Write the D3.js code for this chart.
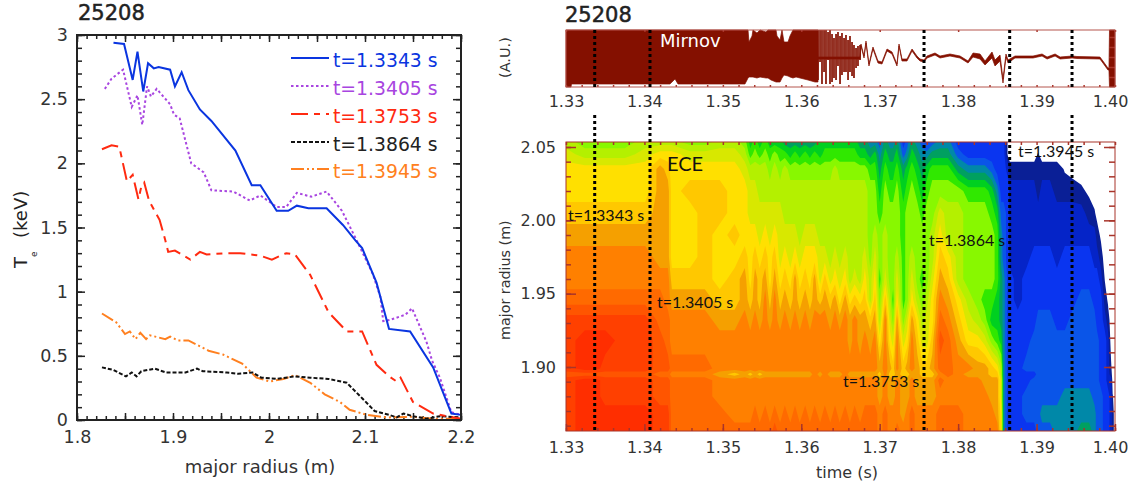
<!DOCTYPE html>
<html>
<head>
<meta charset="utf-8">
<script src="https://cdn.jsdelivr.net/npm/d3@7"></script>
<style>
  body { margin: 0; background: white; }
  svg { display: block; font-family: "DejaVu Sans", sans-serif; }
  .tickLabel text { fill: #333; }
  .note { font-family: Lato, sans-serif; font-size: 16px; fill: #111; }
  .shot { font-size: 21px; fill: #222; stroke: #222; stroke-width: 0.5px; }
</style>
</head>
<body>
<svg id="chart" width="1136" height="488"></svg>
<script>
// left plot: electron temperature profiles
var radius1343 = [1.838,1.849,1.858,1.863,1.869,1.874,1.880,1.885,1.897,1.902,1.909,1.916,1.928,1.940,1.965,1.982,1.991,2.008,2.020,2.029,2.041,2.060,2.077,2.090,2.097,2.112,2.125,2.147,2.171,2.190,2.200];
var te1343 = [2.94,2.93,2.65,2.87,2.56,2.78,2.74,2.75,2.73,2.60,2.71,2.57,2.42,2.33,2.10,1.83,1.83,1.63,1.63,1.67,1.65,1.65,1.52,1.40,1.34,1.07,0.71,0.69,0.41,0.05,0.04];
var radius1405 = [1.829,1.836,1.848,1.857,1.863,1.868,1.873,1.877,1.883,1.897,1.901,1.907,1.919,1.932,1.940,1.963,1.980,1.991,2.008,2.018,2.029,2.044,2.060,2.076,2.090,2.108,2.116,2.119,2.126,2.142,2.149,2.164,2.170,2.178,2.190,2.200];
var te1405 = [2.58,2.66,2.73,2.44,2.53,2.30,2.60,2.52,2.58,2.46,2.38,2.35,2.00,1.93,1.79,1.78,1.71,1.75,1.66,1.66,1.77,1.74,1.78,1.63,1.42,1.14,0.96,0.77,0.78,0.82,0.87,0.61,0.46,0.33,0.06,0.04];
var radius1753 = [1.826,1.836,1.844,1.852,1.858,1.864,1.867,1.870,1.875,1.886,1.892,1.895,1.902,1.918,1.928,1.935,1.956,1.970,1.991,2.003,2.018,2.027,2.043,2.062,2.081,2.097,2.112,2.125,2.133,2.137,2.150,2.171,2.185,2.200];
var te1753 = [2.11,2.14,2.13,1.86,1.91,1.72,1.82,1.85,1.71,1.56,1.40,1.31,1.32,1.25,1.31,1.29,1.30,1.30,1.28,1.25,1.30,1.29,1.13,0.84,0.69,0.69,0.43,0.34,0.30,0.33,0.14,0.05,0.03,0.01];
var radius1864 = [1.826,1.838,1.851,1.857,1.862,1.867,1.881,1.893,1.913,1.925,1.931,1.956,1.968,1.983,1.992,2.008,2.027,2.043,2.062,2.081,2.097,2.110,2.125,2.133,2.140,2.150,2.164,2.178,2.200];
var te1864 = [0.41,0.39,0.34,0.37,0.34,0.38,0.40,0.37,0.37,0.40,0.38,0.37,0.36,0.37,0.33,0.32,0.34,0.33,0.32,0.29,0.17,0.07,0.04,0.02,0.05,0.03,0.01,0.03,0.02];
var radius1945 = [1.826,1.841,1.850,1.855,1.861,1.866,1.872,1.876,1.892,1.897,1.905,1.916,1.937,1.952,1.972,1.987,2.001,2.015,2.027,2.043,2.058,2.074,2.084,2.102,2.123,2.150,2.171,2.200];
var te1945 = [0.83,0.76,0.67,0.69,0.63,0.68,0.63,0.66,0.63,0.65,0.62,0.62,0.54,0.51,0.44,0.33,0.30,0.32,0.35,0.29,0.20,0.14,0.08,0.04,0.02,0.025,0.01,0.01];

var seriesNames = ["t=1.3343 s", "t=1.3405 s", "t=1.3753 s", "t=1.3864 s", "t=1.3945 s"];
var seriesColors = ["#0a35e0", "#a845e0", "#ff2a10", "#111111", "#ff8020"];
var seriesDashes = [null, "2.5,2.5", "17,6,6,6", "4,2", "13,3,2,3,2,3"];

var radiusTicks = [1.8, 1.9, 2, 2.1, 2.2];
var teTicks = [0, 0.5, 1, 1.5, 2, 2.5, 3];

// right plots
var timeTicks = [1.33, 1.34, 1.35, 1.36, 1.37, 1.38, 1.39, 1.40];
var eceRadiusTicks = [1.90, 1.95, 2.00, 2.05];
var markerTimes = [1.33366, 1.34071, 1.37565, 1.38657, 1.39452];

// Mirnov envelope, upper and lower edge
var mirnovTime = [1.33,1.33064,1.3307,1.34326,1.3439,1.34428,1.35282,1.35321,1.35333,1.35372,1.35384,1.35435,1.35474,1.3555,1.35576,1.35614,1.35678,1.3569,1.35729,1.35754,1.3578,1.35831,1.35856,1.35894,1.35933,1.35984,1.36086,1.36175,1.36213,1.36216,1.36749,1.36761,1.368,1.36825,1.36863,1.36914,1.36978,1.37029,1.37093,1.37157,1.3722,1.37246,1.37284,1.37348,1.37412,1.37475,1.37514,1.37565,1.37603,1.37705,1.37769,1.37896,1.38024,1.38126,1.3819,1.38279,1.38343,1.38432,1.3847,1.38534,1.38572,1.3861,1.38636,1.38725,1.38955,1.3907,1.39134,1.39236,1.393,1.39453,1.39515,1.39808,1.39846,1.3991,1.39923,1.3993,1.4];
var mirnovHigh = [57,57,57,57,57,57,57,57,45,51,57,54,57,55,57,57,57,51,47,57,45,45,51,57,57,57,57,57,57,30,30,43,31,46,23,40,26,25,38,35,23,43,28,28,38,31,28,27,31,34,31,33,31,26,34,33,26,35,27,32,8,33,27,31,31,33,30,33,30,31,30.5,30,26,19,19,57,57];
var mirnovLow = [0,0,3,3,8,3,3,9,10,10,10,9,10,9,9,7,5,5,5,9,12,11,10,9,10,9,7,5,5,28,28,41,29,44,21,38,24,23,36,33,21,41,26,26,36,29,26,25,29,32,29,31,29,24,30,28,22,29,21,26,4,30,24,29,29,31,28,31,28,29,28.5,28,24,17,17,0,0];

// Mirnov burst: single swings drawn as thin vertical bars
var burstTime = [1.36213,1.36239,1.36264,1.3629,1.36315,1.36341,1.36366,1.36392,1.36417,1.36443,1.36468,1.36494,1.36519,1.36545,1.3657,1.36596,1.36621,1.36647,1.36672,1.36698,1.36723,1.36749];
var burstHigh = [57,57,57,57,57,55,57,53,49,53,55,51,54,49,52,47,51,45,42,39,41,42];
var burstLow = [7,25,3,15,3,27,3,5,9,7,21,3,12,15,15,7,15,11,9,19,21,27];

// ECE map: one profile per time, values are colour levels
var eceRadii = [1.857,1.868,1.88,1.891,1.895,1.899,1.918,1.932,1.946,1.96,1.975,1.99,2.005,2.02,2.035,2.045,2.053];
var eceTimes = [1.33,1.3324,1.3337,1.335,1.3375,1.3401,1.342,1.343,1.3435,1.3458,1.3477,1.3496,1.3515,1.3528,1.3535,1.3541,1.3547,1.3554,1.356,1.3566,1.3573,1.3579,1.3586,1.3592,1.3598,1.3605,1.3611,1.3617,1.3624,1.363,1.3637,1.3643,1.3649,1.3656,1.3662,1.3668,1.3675,1.3681,1.3688,1.3694,1.37,1.3707,1.3713,1.3717,1.3722,1.373,1.3735,1.3741,1.3748,1.3754,1.376,1.3767,1.3777,1.3787,1.38,1.3813,1.3825,1.3834,1.3843,1.385,1.3855,1.3858,1.3864,1.3866,1.3876,1.3887,1.3897,1.3902,1.3907,1.3917,1.3926,1.3936,1.3946,1.3957,1.3967,1.3974,1.3977,1.3982,1.3987,1.3991,1.3995,1.3997,1.4];
var eceLevels = [
  [18,18,18,18,17,18,18,18,16,15,15,14,13,12,12,11,10],
  [19,19,19,19,17,19,19,18,16,15,15,14,13,12,12,10,9],
  [19,19,19,19,17,19,19,18,16,15,15,14,13,12,12,10,9],
  [19,19,18,18,17,18,19,18,16,15,15,14,13,12,12,10,9],
  [19,19,18,18,17,18,18,18,16,15,15,14,13,12,12,10,9],
  [19,19,18,18,17,18,18,18,16,15,15,14,13,12,12,11,10],
  [18,18,17,17,16,17,17,16,16,15,14,14,14,14,14,12,10],
  [18,18,17,17,16,17,16,16,15,15,14,14,14,14,13,12,10],
  [16,16,16,16,15,16,15,15,14,13,12,12,12,12,12,12,10],
  [16,16,16,16,15,16,15,15,14,13,12,12,12,13,12,11,9],
  [16,16,16,16,15,16,15,15,14,13,13,13,13,13,12,11,9],
  [16,16,15,15,14,15,15,14,13,12,12,12,13,13,12,11,10],
  [16,15,15,15,13,15,15,14,13,13,12,13,12,12,12,11,10],
  [16,15,15,15,14,15,15,15,14,14,13,12,12,12,11,10,9],
  [16,15,15,15,13,15,15,14,13,12,12,12,11,11,10,8,7],
  [16,16,15,15,14,15,15,15,14,14,13,12,11,11,10,9,8],
  [16,15,15,15,13,15,15,14,13,13,12,11,11,10,10,8,7],
  [16,16,15,15,14,15,15,15,15,14,13,12,11,10,10,9,8],
  [16,15,15,15,14,15,15,14,13,12,12,11,11,10,9,8,7],
  [17,16,15,15,14,15,15,15,15,14,13,12,11,10,10,9,7],
  [16,15,15,15,14,15,15,14,13,12,11,11,11,10,9,8,7],
  [16,16,15,15,14,15,15,15,14,13,12,11,10,10,10,8,6],
  [16,15,15,15,14,15,15,14,13,12,11,11,10,10,9,7,6],
  [16,16,15,15,14,15,15,15,14,14,12,11,10,10,9,8,6],
  [16,15,15,15,14,15,15,14,13,12,11,10,10,10,9,7,6],
  [16,16,15,15,14,15,15,15,14,13,12,11,10,10,9,8,6],
  [16,15,15,15,14,15,15,14,13,12,12,11,10,10,9,7,6],
  [16,16,15,15,15,15,15,15,14,14,12,11,10,10,9,8,6],
  [16,15,15,15,14,15,15,15,13,11,11,10,10,10,9,7,7],
  [16,16,15,15,15,15,15,15,14,13,11,10,10,10,9,8,7],
  [16,15,15,15,14,15,15,14,13,11,10,10,10,10,9,8,7],
  [16,16,15,15,14,15,15,15,14,12,11,10,10,10,10,8,7],
  [16,15,15,15,14,15,15,14,12,11,10,10,10,10,9,8,7],
  [16,16,15,15,15,15,15,15,14,12,11,10,10,10,9,8,7],
  [16,15,15,15,14,15,14,14,12,10,10,10,10,10,9,8,7],
  [16,16,15,15,14,15,15,15,13,11,10,10,10,10,9,8,7],
  [16,15,15,15,14,15,14,14,12,10,10,10,10,10,9,7,6],
  [16,16,15,15,14,15,15,14,13,12,11,10,10,10,9,7,6],
  [16,16,15,15,14,15,14,13,10,10,9,9,9,9,8,6,5],
  [16,16,15,15,14,15,15,14,13,12,11,10,9,9,8,7,5],
  [15,15,14,14,13,14,12,10,9,8,9,9,8,7,6,5,4],
  [16,16,15,15,15,15,15,15,13,11,10,10,9,9,8,7,6],
  [15,15,14,14,13,14,12,11,10,9,9,9,9,8,7,6,5],
  [15,15,14,14,13,13,11,9,8,9,9,9,9,8,7,6,5],
  [16,15,15,15,14,15,15,14,12,11,10,9,9,9,8,7,6],
  [15,14,14,14,13,13,11,9,8,8,8,8,8,7,6,4,3],
  [15,15,14,14,13,14,12,11,9,9,9,9,9,8,7,5,4],
  [16,16,15,15,14,15,15,14,12,11,10,9,9,9,8,7,6],
  [15,15,14,14,14,14,13,12,10,9,9,9,9,8,7,6,5],
  [15,15,14,14,13,13,11,10,9,8,9,9,8,7,6,5,4],
  [15,15,14,14,13,13,11,11,10,9,9,9,9,8,7,5,3],
  [15,15,14,14,13,14,13,12,12,11,10,10,9,9,8,6,4],
  [16,16,15,16,15,16,17,16,15,14,13,12,11,9,8,6,5],
  [16,16,15,15,16,16,16,15,14,13,12,10,10,9,8,6,5],
  [16,16,15,15,15,15,14,13,12,10,10,10,10,9,6,4,3],
  [15,15,15,15,14,15,12,11,10,9,9,9,9,8,5,3,3],
  [15,15,15,15,14,14,12,10,9,9,9,9,9,8,5,3,3],
  [15,15,15,14,14,14,11,9,8,9,9,9,9,8,5,3,3],
  [15,15,14,14,13,13,9,7,8,9,9,9,8,7,4,3,3],
  [15,14,14,14,13,12,8,7,7,8,8,8,7,5,3,3,3],
  [12,12,11,11,10,10,7,6,6,6,5,5,4,3,3,3,3],
  [5,5,5,5,5,5,5,5,5,5,4,4,4,3,3,3,3],
  [3,3,3,3,3,3,3,3,3,3,3,3,3,3,2,0,0],
  [3,3,3,3,3,3,3,3,3,3,2,2,2,2,1,0,0],
  [3,3,3,3,3,3,3,3,2,2,2,2,2,2,1,0,0],
  [3,4,4,3,3,4,3,3,3,3,2,2,2,2,1,0,0],
  [3,4,4,4,3,4,4,3,3,3,3,2,2,2,1,0,0],
  [4,4,4,4,4,4,4,4,3,3,3,2,2,1,1,0.6,0],
  [4,5,4,4,4,4,4,4,3,3,3,2,2,2,1,0,0],
  [4,5,4,4,4,4,4,4,3,3,3,2,2,2,1,0,0],
  [5,5,4,4,4,4,4,3,3,3,2,2,2,1,1,0,0],
  [5,5,5,4,4,4,4,3,3,3,3,2,2,1,0.4,0,0],
  [5,5,5,4,4,4,4,4,3,3,3,2,2,1,0.1,0,0],
  [6,5,5,4,4,4,4,4,4,3,3,2,2,0.7,0,0,0],
  [6,5,5,4,4,4,4,4,4,3,3,2,1,0.3,0,0,0],
  [5,5,4,4,4,4,4,4,3,3,2,2,0.6,0,0,0,0],
  [4,4,4,4,4,4,4,3,3,3,2,1,0.2,0,0,0,0],
  [4,4,4,3,3,3,3,3,3,2,1,0.3,0,0,0,0,0],
  [3,3,3,3,3,3,3,2,1,0.45,0,0,0,0,0,0,0],
  [3,3,3,2,2,2,2,1,0.35,0,0,0,0,0,0,0,0],
  [2,2,2,2,1,0.7,0,0,0,0,0,0,0,0,0,0,0],
  [1,1,0.6,0,0,0,0,0,0,0,0,0,0,0,0,0,0],
  [0,0,0,0,0,0,0,0,0,0,0,0,0,0,0,0,0]
];
var levelColors = ["#0a1f96","#0524c8","#0a35f0","#0a55e8","#0088a8","#00a060","#00d020","#30e800","#88f800","#b4f000","#d8e800","#ffe000","#ffc800","#f5a000","#ff8000","#ff6a00","#ff5500","#ff4000","#ff2e00"];

var svg = d3.select("#chart");
var darkRed = "#a8342a";


// small inward ticks on all four sides of a panel
function sideTicks(g, scale, values, orient, pos, length, color) {
  var axis = orient == "x" ? d3.axisBottom(scale) : d3.axisLeft(scale);
  g.append("g")
    .attr("transform", orient == "x" ? "translate(0," + pos + ")" : "translate(" + pos + ",0)")
    .call(axis.tickValues(values).tickSize(length).tickFormat(""))
    .call(function(a) { a.select(".domain").remove(); })
    .selectAll("line").attr("stroke", color).attr("stroke-width", 1.5);
}


function minorValues(start, step, count) {
  var out = [];
  for (var i = 0; i <= count; i++) {
    out.push(+(start + i * step).toFixed(4));
  }
  return out;
}


function profilePlot() {
  var x = d3.scaleLinear().domain([1.8, 2.2]).range([77, 461]);
  var y = d3.scaleLinear().domain([0, 3]).range([420, 35]);
  var g = svg.append("g");
  var ink = "#222";

  // ticks
  sideTicks(g, x, minorValues(1.8, 0.01, 40), "x", 420, -4, ink);
  sideTicks(g, x, minorValues(1.8, 0.05, 8), "x", 420, -7, ink);
  sideTicks(g, x, minorValues(1.8, 0.01, 40), "x", 35, 4, ink);
  sideTicks(g, x, minorValues(1.8, 0.05, 8), "x", 35, 7, ink);
  sideTicks(g, y, minorValues(0, 0.1, 30), "y", 77, -5, ink);
  sideTicks(g, y, teTicks, "y", 77, -8, ink);
  sideTicks(g, y, minorValues(0, 0.1, 30), "y", 461, 5, ink);
  sideTicks(g, y, teTicks, "y", 461, 8, ink);

  // labels
  g.append("g").attr("class", "tickLabel")
    .attr("transform", "translate(0,420)")
    .call(d3.axisBottom(x).tickValues(radiusTicks).tickSize(0).tickPadding(11).tickFormat(function(d) { return d; }))
    .call(function(a) { a.select(".domain").remove(); })
    .selectAll("text").style("font", "17.5px 'DejaVu Sans'");
  g.append("g").attr("class", "tickLabel")
    .attr("transform", "translate(77,0)")
    .call(d3.axisLeft(y).tickValues(teTicks).tickSize(0).tickPadding(9).tickFormat(function(d) { return d; }))
    .call(function(a) { a.select(".domain").remove(); })
    .selectAll("text").style("font", "17.5px 'DejaVu Sans'");

  // curves
  var radii = [radius1343, radius1405, radius1753, radius1864, radius1945];
  var temps = [te1343, te1405, te1753, te1864, te1945];
  var line = d3.line()
    .x(function(d) { return x(d[0]); })
    .y(function(d) { return y(d[1]); });

  // orange and black sit under the others
  [4, 3, 2, 1, 0].forEach(function(s) {
    g.append("path")
      .datum(d3.zip(radii[s], temps[s]))
      .attr("fill", "none")
      .attr("stroke", seriesColors[s])
      .attr("stroke-width", 2)
      .attr("stroke-dasharray", seriesDashes[s])
      .attr("d", line);
  });

  g.append("rect")
    .attr("x", 77).attr("y", 35).attr("width", 384).attr("height", 385)
    .attr("fill", "none").attr("stroke", ink).attr("stroke-width", 2);

  // legend
  var legendRows = [58, 86, 114, 142, 169];
  seriesNames.forEach(function(name, s) {
    g.append("line")
      .attr("x1", 291).attr("x2", 329)
      .attr("y1", legendRows[s]).attr("y2", legendRows[s])
      .attr("stroke", seriesColors[s])
      .attr("stroke-width", 2)
      .attr("stroke-dasharray", seriesDashes[s]);
    g.append("text")
      .attr("x", 333).attr("y", legendRows[s] + 8.5)
      .attr("fill", s == 3 ? "#222" : seriesColors[s])
      .style("font-size", "18.8px")
      .text(name);
  });

  g.append("text").attr("class", "shot").attr("x", 78).attr("y", 19.5).text("25208");
  g.append("text").attr("x", 260).attr("y", 473).attr("text-anchor", "middle").style("font-size", "18px").attr("fill", "#333").text("major radius (m)");

  // T_e (keV), written bottom to top
  g.append("text").attr("transform", "translate(27,268) rotate(-90)").style("font-size", "18px").attr("fill", "#222").text("T");
  g.append("text").attr("transform", "translate(37,257) rotate(-90)").style("font-size", "9px").attr("fill", "#222").text("e");
  g.append("text").attr("transform", "translate(27,238) rotate(-90)").style("font-size", "18px").attr("fill", "#222").text("(keV)");
}


function timeAxis(g, x, pos, padding) {
  g.append("g").attr("class", "tickLabel")
    .attr("transform", "translate(0," + pos + ")")
    .call(d3.axisBottom(x).tickValues(timeTicks).tickSize(0).tickPadding(padding).tickFormat(d3.format(".2f")))
    .call(function(a) { a.select(".domain").remove(); })
    .selectAll("text").style("font", "16px 'DejaVu Sans'")
    .attr("dx", function(d) { return d == 1.40 ? -5 : 0; });
}


function mirnovPlot(x) {
  var y = d3.scaleLinear().domain([0, 57]).range([87, 30]);
  var g = svg.append("g");

  var area = d3.area()
    .x(function(d) { return x(d[0]); })
    .y0(function(d) { return y(d[2]); })
    .y1(function(d) { return y(d[1]); });
  g.append("path")
    .datum(d3.zip(mirnovTime, mirnovHigh, mirnovLow))
    .attr("fill", "#841000")
    .attr("stroke", "#841000")
    .attr("stroke-width", 0.7)
    .attr("d", area);

  g.selectAll("line.burst")
    .data(d3.zip(burstTime, burstHigh, burstLow))
    .enter().append("line")
    .attr("class", "burst")
    .attr("x1", function(d) { return x(d[0]); })
    .attr("x2", function(d) { return x(d[0]); })
    .attr("y1", function(d) { return y(d[1]); })
    .attr("y2", function(d) { return y(d[2]); })
    .attr("stroke", "#841000")
    .attr("stroke-width", 1.7);

  sideTicks(g, x, minorValues(1.33, 0.002, 35), "x", 87, -2, darkRed);
  sideTicks(g, x, timeTicks, "x", 30, 2, darkRed);
  sideTicks(g, y, [10, 20, 30, 40, 50], "y", 1115, 6, darkRed);

  g.append("rect")
    .attr("x", 566).attr("y", 30).attr("width", 549).attr("height", 57)
    .attr("fill", "none").attr("stroke", "#b5574e").attr("stroke-width", 1);

  timeAxis(g, x, 87, 9);

  g.append("text").attr("x", 660).attr("y", 47).attr("fill", "white").style("font-size", "18px").text("Mirnov");
  g.append("text").attr("class", "shot").attr("x", 565).attr("y", 21.5).text("25208");
  g.append("text").attr("transform", "translate(510,78) rotate(-90)").style("font-size", "14.5px").attr("fill", "#333").text("(A.U.)");
}


function ecePlot(x) {
  var y = d3.scaleLinear().domain([1.90, 2.05]).range([367, 147]);
  var g = svg.append("g");
  var n = eceTimes.length;
  var m = eceRadii.length;

  // flat grid for d3.contours, row by row
  var grid = [];
  for (var j = 0; j < m; j++) {
    for (var i = 0; i < n; i++) {
      grid.push(eceLevels[i][j]);
    }
  }

  // grid index to data position, cells are centred on index + 0.5
  var indexX = [0], pixelX = [x(eceTimes[0])];
  eceTimes.forEach(function(t, i) { indexX.push(i + 0.5); pixelX.push(x(t)); });
  indexX.push(n); pixelX.push(x(eceTimes[n - 1]));
  var indexY = [0], pixelY = [431];
  eceRadii.forEach(function(r, j) { indexY.push(j + 0.5); pixelY.push(j == 0 ? 431 : j == m - 1 ? 142 : y(r)); });
  indexY.push(m); pixelY.push(142);
  var gridX = d3.scaleLinear().domain(indexX).range(pixelX);
  var gridY = d3.scaleLinear().domain(indexY).range(pixelY);

  var path = d3.geoPath(d3.geoTransform({
    point: function(px, py) { this.stream.point(gridX(px), gridY(py)); }
  }));

  var contours = d3.contours()
    .size([n, m])
    .thresholds(levelColors.map(function(c, l) { return l + 0.5; }))(grid);

  g.selectAll("path.level")
    .data(contours)
    .enter().append("path")
    .attr("class", "level")
    .attr("d", path)
    .attr("fill", function(d, l) { return levelColors[l]; });

  // ticks
  var radiusMinor = minorValues(1.86, 0.01, 19);
  sideTicks(g, x, minorValues(1.33, 0.002, 35), "x", 431, -3, darkRed);
  sideTicks(g, x, timeTicks, "x", 431, -7, darkRed);
  sideTicks(g, x, minorValues(1.33, 0.002, 35), "x", 142, 3, darkRed);
  sideTicks(g, y, radiusMinor, "y", 566, -5, darkRed);
  sideTicks(g, y, eceRadiusTicks, "y", 566, -10, darkRed);
  sideTicks(g, y, radiusMinor, "y", 1115, 6, darkRed);
  sideTicks(g, y, eceRadiusTicks, "y", 1115, 11, darkRed);

  g.append("rect")
    .attr("x", 566).attr("y", 142).attr("width", 549).attr("height", 289)
    .attr("fill", "none").attr("stroke", darkRed).attr("stroke-width", 1);

  timeAxis(g, x, 431, 11);

  g.append("g").attr("class", "tickLabel")
    .attr("transform", "translate(566,0)")
    .call(d3.axisLeft(y).tickValues(eceRadiusTicks).tickSize(0).tickPadding(10).tickFormat(d3.format(".2f")))
    .call(function(a) { a.select(".domain").remove(); })
    .selectAll("text").style("font", "16px 'DejaVu Sans'");

  g.append("text").attr("x", 847).attr("y", 478).attr("text-anchor", "middle").style("font-size", "16px").attr("fill", "#333").text("time (s)");
  g.append("text").attr("transform", "translate(510,340) rotate(-90)").style("font-size", "14.3px").attr("fill", "#333").text("major radius (m)");
}


function markers(x) {
  var spans = [[30, 88], [115, 431]];
  spans.forEach(function(span) {
    svg.append("g").selectAll("line")
      .data(markerTimes)
      .enter().append("line")
      .attr("x1", function(d) { return x(d); })
      .attr("x2", function(d) { return x(d); })
      .attr("y1", span[0])
      .attr("y2", span[1])
      .attr("stroke", "black")
      .attr("stroke-width", 3)
      .attr("stroke-dasharray", "3,3");
  });

  // time labels next to the dotted lines
  var noteX = [568, 657, 843, 929, 1018];
  var noteY = [221, 308, 387, 246, 157];
  seriesNames.forEach(function(name, s) {
    svg.append("text").attr("class", "note").attr("x", noteX[s]).attr("y", noteY[s]).text(name);
  });
  svg.append("text").attr("x", 667).attr("y", 171)
    .style("font-family", "Lato, sans-serif").style("font-size", "20px").attr("fill", "#111").text("ECE");
}


profilePlot();
var timeScale = d3.scaleLinear().domain([1.33, 1.40]).range([566, 1115]);
ecePlot(timeScale);
mirnovPlot(timeScale);
markers(timeScale);
</script>
</body>
</html>
